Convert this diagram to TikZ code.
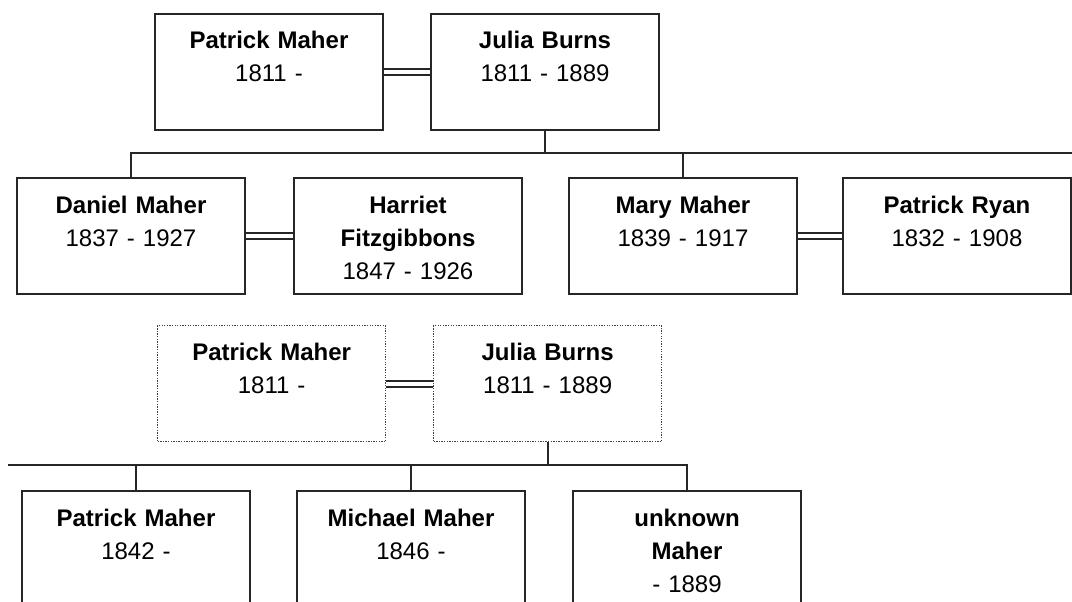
\documentclass[tikz,border=0pt]{standalone}
\usepackage{fontspec}
\setmainfont{Liberation Sans}
\usetikzlibrary{calc}

\begin{document}
\begin{tikzpicture}[
        x=1pt, y=-1pt,
        person box/.style={draw=black!85, line width=2pt, inner sep=0pt, anchor=north west,
            text width=228pt, align=center, text height=35pt, text depth=81pt,
            font=\fontsize{24}{33}\selectfont},
        ghost box/.style={person box, draw=black!75, line width=1.3pt, dash pattern=on 1.3pt off 1.3pt},
        marriage/.style={draw=black!85, line width=2pt, double, double distance=4pt},
        descent/.style={draw=black!85, line width=2pt}
    ]
    \useasboundingbox (0,0) rectangle (1072,602);
    \clip (0,0) rectangle (1072,602);

    % first family
    \node[person box] (pm1) at (154,13) {\textbf{Patrick Maher}\\1811 -};
    \node[person box] (jb1) at (430,13) {\textbf{Julia Burns}\\1811 - 1889};
    \node[person box] (dm) at (16,177) {\textbf{Daniel Maher}\\1837 - 1927};
    \node[person box] (hf) at (293,177) {\textbf{Harriet}\\\textbf{Fitzgibbons}\\1847 - 1926};
    \node[person box] (mm) at (568,177) {\textbf{Mary Maher}\\1839 - 1917};
    \node[person box] (pr) at (842,177) {\textbf{Patrick Ryan}\\1832 - 1908};

    % repeated parents
    \node[ghost box] (pm2) at (157,325) {\textbf{Patrick Maher}\\1811 -};
    \node[ghost box] (jb2) at (433,325) {\textbf{Julia Burns}\\1811 - 1889};
    \node[person box] (pm3) at (21,490) {\textbf{Patrick Maher}\\1842 -};
    \node[person box] (mi) at (296,490) {\textbf{Michael Maher}\\1846 -};
    \node[person box] (um) at (572,490) {\textbf{unknown}\\\textbf{Maher}\\- 1889};

    \coordinate (bar1) at (1072,153);
    \coordinate (bar2) at (8,465);

    \foreach \p/\q in {pm1/jb1,dm/hf,mm/pr,pm2/jb2} {
        \draw[marriage] (\p.east) -- (\q.west);
    }
    \draw[descent] (dm.north) |- (bar1);
    \draw[descent] (jb1.south) -- (jb1.south |- bar1);
    \draw[descent] (mm.north) -- (mm.north |- bar1);

    \draw[descent] (bar2) -| (um.north);
    \draw[descent] (jb2.south) -- (jb2.south |- bar2);
    \foreach \c in {pm3,mi} {
        \draw[descent] (\c.north) -- (\c.north |- bar2);
    }

\end{tikzpicture}
\end{document}
